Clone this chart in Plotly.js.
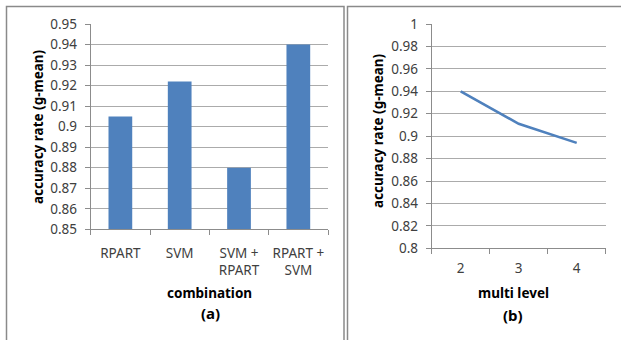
<!DOCTYPE html>
<html>
<head>
<meta charset="utf-8">
<script src="https://cdn.plot.ly/plotly-3.0.1.min.js"></script>
<style>
html,body{margin:0;padding:0;background:#fff;}
#chart{width:621px;height:340px;}
</style>
</head>
<body>
<div id="chart"></div>
<script>
// Data
var combinations = ["RPART", "SVM", "SVM +<br>RPART", "RPART +<br>SVM"];
var combinationAccuracy = [0.905, 0.922, 0.880, 0.940];

var multiLevels = ["2", "3", "4"];
var multiLevelAccuracy = [0.940, 0.911, 0.894];

var leftTickVals = [0.85, 0.86, 0.87, 0.88, 0.89, 0.90, 0.91, 0.92, 0.93, 0.94, 0.95];
var leftTickText = ["0.85", "0.86", "0.87", "0.88", "0.89", "0.9", "0.91", "0.92", "0.93", "0.94", "0.95"];
var rightTickVals = [0.80, 0.82, 0.84, 0.86, 0.88, 0.90, 0.92, 0.94, 0.96, 0.98, 1.00];
var rightTickText = ["0.8", "0.82", "0.84", "0.86", "0.88", "0.9", "0.92", "0.94", "0.96", "0.98", "1"];

var yTitle = "accuracy rate (g-mean)";
var leftXTitle = "combination";
var rightXTitle = "multi level";
var leftLabel = "(a)";
var rightLabel = "(b)";

var W = 621, H = 340;
function px(x){ return x / W; }
function py(y){ return 1 - y / H; }

var blue = "#4f81bd";
var grid = "#ababab";
var axisCol = "#8c8c8c";
var tickFont = {family: "Noto Sans, Open Sans, sans-serif", size: 13.5, color: "#404040"};
var titleFont = {family: "Noto Sans, Open Sans, sans-serif", size: 13.5, color: "#000", weight: "bold"};

var traces = [
  {
    type: "bar",
    x: combinations,
    y: combinationAccuracy,
    xaxis: "x", yaxis: "y",
    marker: {color: blue, line: {width: 0}},
    hoverinfo: "skip"
  },
  {
    type: "scatter",
    mode: "lines",
    x: multiLevels,
    y: multiLevelAccuracy,
    xaxis: "x2", yaxis: "y2",
    line: {color: blue, width: 2.6},
    hoverinfo: "skip"
  }
];

function yAxis(range, vals, text, dom, anchor){
  return {
    domain: dom, anchor: anchor, range: range,
    tickmode: "array", tickvals: vals, ticktext: text,
    showgrid: true, gridcolor: grid, gridwidth: 1,
    showline: true, linecolor: axisCol, linewidth: 1,
    ticks: "outside", ticklen: 5, tickcolor: axisCol, tickwidth: 1,
    ticklabelstandoff: 5,
    zeroline: false, tickfont: tickFont, fixedrange: true
  };
}
function xAxis(dom, anchor, n, standoff){
  return {
    domain: dom, anchor: anchor, type: "category",
    range: [-0.5, n - 0.5],
    showgrid: false, showline: true, linecolor: axisCol, linewidth: 1,
    ticks: "outside", tickson: "boundaries", ticklen: 5, tickcolor: axisCol, tickwidth: 1,
    ticklabelstandoff: standoff,
    zeroline: false, tickfont: tickFont, fixedrange: true, tickangle: 0
  };
}

var layout = {
  width: W, height: H,
  margin: {l: 0, r: 0, t: 0, b: 0},
  paper_bgcolor: "#fff", plot_bgcolor: "rgba(0,0,0,0)",
  showlegend: false,
  bargap: 0.6,
  xaxis: xAxis([px(90.7), px(328)], "y", combinations.length, 11),
  yaxis: yAxis([0.85, 0.95], leftTickVals, leftTickText, [py(229.3), py(24)], "x"),
  xaxis2: xAxis([px(431.7), px(605.7)], "y2", multiLevels.length, 7),
  yaxis2: yAxis([0.8, 1.0], rightTickVals, rightTickText, [py(248.3), py(24)], "x2"),
  shapes: [
    {type: "rect", xref: "paper", yref: "paper", x0: px(6.5), x1: px(344), y0: -0.1, y1: py(6.5),
     line: {color: "#8a8a8a", width: 1.5}},
    {type: "rect", xref: "paper", yref: "paper", x0: px(347.5), x1: 1.1, y0: -0.1, y1: py(6.5),
     line: {color: "#8a8a8a", width: 1.5}}
  ],
  annotations: [
    {text: yTitle, xref: "paper", yref: "paper", x: px(38), y: py(127), textangle: -90,
     showarrow: false, font: titleFont, xanchor: "center", yanchor: "middle"},
    {text: yTitle, xref: "paper", yref: "paper", x: px(378), y: py(131), textangle: -90,
     showarrow: false, font: titleFont, xanchor: "center", yanchor: "middle"},
    {text: leftXTitle, xref: "paper", yref: "paper", x: px(209), y: py(293),
     showarrow: false, font: titleFont, xanchor: "center", yanchor: "middle"},
    {text: leftLabel, xref: "paper", yref: "paper", x: px(210), y: py(313),
     showarrow: false, font: Object.assign({}, titleFont, {size: 15}), xanchor: "center", yanchor: "middle"},
    {text: rightXTitle, xref: "paper", yref: "paper", x: px(513), y: py(293),
     showarrow: false, font: titleFont, xanchor: "center", yanchor: "middle"},
    {text: rightLabel, xref: "paper", yref: "paper", x: px(513), y: py(315),
     showarrow: false, font: Object.assign({}, titleFont, {size: 15}), xanchor: "center", yanchor: "middle"}
  ]
};

Plotly.newPlot("chart", traces, layout, {staticPlot: true, displayModeBar: false});
</script>
</body>
</html>
